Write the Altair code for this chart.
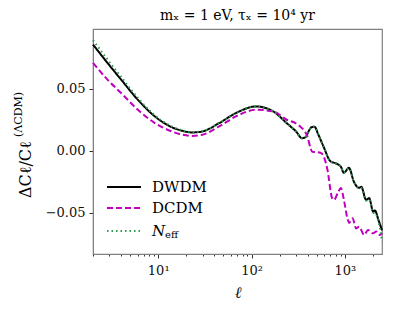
import altair as alt
import pandas as pd

# ---- data ----
ell_dwdm = [2, 2.86, 4, 6.06, 9.2, 14, 18, 23, 29, 45, 68, 112, 171, 238, 300, 347, 380,
            408, 440, 472, 520, 590, 705, 798, 906, 975, 1105, 1252, 1420, 1500,
            1690, 1820, 2013, 2100, 2290, 2400, 2500]
dwdm = [0.0855, 0.0707, 0.0573, 0.041, 0.0277, 0.0190, 0.0162, 0.0148, 0.0154, 0.0223, 0.0304,
        0.0357, 0.0317, 0.0223, 0.0155, 0.0102, 0.011, 0.0156, 0.019, 0.0194, 0.013,
        0.0035, -0.0086, -0.0100, -0.0128, -0.0177, -0.0137, -0.025, -0.0298, -0.029,
        -0.0395, -0.038, -0.049, -0.048, -0.0556, -0.060, -0.064]

ell_dcdm = [2, 2.86, 4, 6.06, 9.2, 14, 18, 23, 29, 45, 68, 112, 171, 238, 300, 332, 360,
            398, 428, 447, 500, 548, 590, 650, 730, 765, 850, 906, 980, 1070, 1110,
            1210, 1320, 1420, 1610, 1770, 2000, 2170, 2370, 2500]
dcdm = [0.0707, 0.0573, 0.0465, 0.033, 0.0223, 0.0156, 0.0130, 0.0120, 0.0127, 0.0196, 0.0277,
        0.033, 0.0317, 0.025, 0.022, 0.0196, 0.017, 0.0113, 0.0024, -0.0008, -0.0010,
        -0.0015, -0.004, -0.015, -0.038, -0.0395, -0.033, -0.030, -0.040, -0.055, -0.058,
        -0.0543, -0.0624, -0.061, -0.0677, -0.0637, -0.0664, -0.065, -0.0677, -0.066]

ell_neff = [2, 2.86, 4, 6.06, 9.2, 14, 18, 23, 29, 45, 68, 112, 171, 238, 300, 347, 380,
            408, 440, 472, 520, 590, 705, 798, 906, 975, 1105, 1252, 1420, 1500,
            1690, 1820, 2013, 2100, 2290, 2400, 2500]
neff = [0.089, 0.0735, 0.0595, 0.0425, 0.0285, 0.0195, 0.0165, 0.0150, 0.0155, 0.0223, 0.0304,
        0.0357, 0.0317, 0.0223, 0.0155, 0.0102, 0.011, 0.0156, 0.019, 0.0194, 0.013,
        0.0035, -0.0087, -0.0101, -0.0129, -0.0176, -0.0140, -0.025, -0.0300, -0.030,
        -0.0400, -0.039, -0.050, -0.050, -0.057, -0.064, -0.073]

series_names = ["DWDM", "DCDM", "Neff"]
colors = ["#000000", "#c000c0", "#339955"]
dashes = [[1, 0], [6, 3], [1.5, 3]]

x_ticks = [2, 3, 4, 5, 6, 7, 8, 9, 10, 20, 30, 40, 50, 60, 70, 80, 90, 100,
           200, 300, 400, 500, 600, 700, 800, 900, 1000, 2000]
y_ticks = [-0.05, 0.0, 0.05]

rows = []
for name, ls, vs in zip(series_names, [ell_dwdm, ell_dcdm, ell_neff], [dwdm, dcdm, neff]):
    for l, v in zip(ls, vs):
        rows.append({"series": name, "ell": l, "val": v})
df = pd.DataFrame(rows)

FONT = "DejaVu Serif"
W, H = 289, 225
xscale = alt.Scale(type="log", domain=[2, 2500], nice=False)
yscale = alt.Scale(domain=[-0.083, 0.098], nice=False)
is_major = "datum.value == 10 || datum.value == 100 || datum.value == 1000"

lines = []
for name, c, d in zip(series_names, colors, dashes):
    lines.append(
        alt.Chart(df[df.series == name]).mark_line(
            color=c, strokeWidth=2, strokeDash=d, interpolate="monotone"
        ).encode(
            x=alt.X("ell:Q", scale=xscale,
                    axis=alt.Axis(values=x_ticks, title="ℓ", titleFontStyle="italic",
                                  titleFontSize=16, titleFont=FONT, titleFontWeight="normal",
                                  titlePadding=7,
                                  labelExpr="datum.value == 10 ? '10¹' : datum.value == 100 ? '10²' : datum.value == 1000 ? '10³' : ''",
                                  labelFont=FONT, labelFontSize=13, labelPadding=6,
                                  tickSize={"condition": {"test": is_major, "value": 4}, "value": 2},
                                  grid=False, labelOverlap=False)),
            y=alt.Y("val:Q", scale=yscale,
                    axis=alt.Axis(values=y_ticks, title=None,
                                  labelExpr="replace(format(datum.value, '.2f'), '-', '−')",
                                  labelFont=FONT, labelFontSize=13, labelPadding=4,
                                  tickSize=4, grid=False)),
        )
    )

one = df.head(1)
# y-axis title with a superscript, drawn as rotated text
ytitle = [
    alt.Chart(one).mark_text(font=FONT, fontSize=16, angle=270, align="left",
                             baseline="alphabetic", text="ΔCℓ/Cℓ").encode(
        x=alt.value(-62), y=alt.value(169)),
    alt.Chart(one).mark_text(font=FONT, fontSize=11, angle=270, align="left",
                             baseline="alphabetic", text="(ΛCDM)").encode(
        x=alt.value(-71), y=alt.value(108)),
]

# manual legend
leg_y = [158, 179, 202]
leg_rules = []
for name, c, d, yy in zip(series_names, colors, dashes, leg_y):
    leg_rules.append(
        alt.Chart(one).mark_rule(color=c, strokeWidth=2, strokeDash=d).encode(
            x=alt.value(14), x2=alt.value(48), y=alt.value(yy))
    )
leg_text = []
for label, yy in zip(["DWDM", "DCDM"], leg_y[:2]):
    leg_text.append(
        alt.Chart(one).mark_text(font=FONT, fontSize=15, align="left",
                                 baseline="middle", text=label).encode(
            x=alt.value(59), y=alt.value(yy))
    )
leg_text.append(
    alt.Chart(one).mark_text(font=FONT, fontSize=15, fontStyle="italic", align="left",
                             baseline="middle", text="N").encode(
        x=alt.value(59), y=alt.value(leg_y[2]))
)
leg_text.append(
    alt.Chart(one).mark_text(font=FONT, fontSize=10, align="left",
                             baseline="middle", text="eff").encode(
        x=alt.value(72), y=alt.value(leg_y[2] + 4))
)

chart = alt.layer(*lines, *ytitle, *leg_rules, *leg_text).properties(
    width=W, height=H,
    title=alt.Title("mₓ = 1 eV, τₓ = 10⁴ yr", font=FONT, fontSize=14,
                    fontWeight="normal", anchor="middle", offset=6),
    autosize=alt.AutoSizeParams(type="none"),
    padding={"left": 85, "top": 21, "right": 6, "bottom": 52},
).configure_view(stroke="#808080", strokeWidth=1.2).configure_axis(
    domainColor="#808080", tickColor="#333333", labelColor="#111111", titleColor="#111111"
)

chart.save("out.html", embed_options={"renderer": "svg", "actions": False})
